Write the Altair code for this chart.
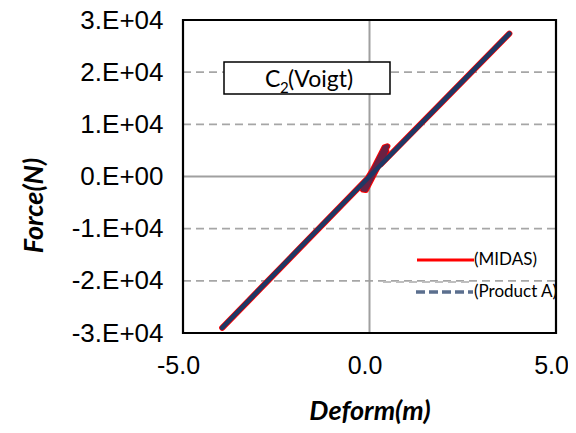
import altair as alt
import pandas as pd

# ---- data ----
prodA_deform = [-3.95, -2.0, 0.0, 2.0, 3.75]
prodA_force = [-29000, -14650, 0, 14650, 27400]

midas_deform = [-3.95, -2.0, -0.05, 0.48, 0.40, -0.18, -0.10, 0.45, 0.30, 2.0, 3.75]
midas_force = [-29000, -14700, -350, 5800, 5600, -2500, -2600, 5000, 2300, 14650, 27400]

y_grid = [-20000, -10000, 10000, 20000]
y_ticks = [-30000, -20000, -10000, 0, 10000, 20000, 30000]
x_ticks = [-5.0, 0.0, 5.0]

dfA = pd.DataFrame({"d": prodA_deform, "f": prodA_force, "o": list(range(len(prodA_deform)))})
dfM = pd.DataFrame({"d": midas_deform, "f": midas_force, "o": list(range(len(midas_deform)))})
dfG = pd.DataFrame({"g": y_grid})
dfZ = pd.DataFrame({"z": [0]})

xs = alt.Scale(domain=[-5, 5], nice=False, zero=False)
ys = alt.Scale(domain=[-30000, 30000], nice=False, zero=False)

x_axis = alt.Axis(
    values=x_ticks, grid=False, domain=False, ticks=False, labelFlush=False, labelOverlap=False,
    labelExpr="datum.value < 0 ? '-' + format(abs(datum.value), '.1f') : format(datum.value, '.1f')",
    labelFont="Liberation Sans", labelFontSize=25, labelColor="black", labelPadding=20,
    labelOffset=-5,
    title="Deform(m)", titleFont="Lato", titleFontSize=27, titleFontStyle="italic",
    titleFontWeight="bold", titleColor="black", titleBaseline="alphabetic", titleY=86,
)
y_axis = alt.Axis(
    values=y_ticks, grid=False, domain=False, ticks=False, labelOverlap=False,
    labelExpr="datum.value == 0 ? '0.E+00' : (datum.value < 0 ? '-' : '') + format(abs(datum.value)/10000, 'd') + '.E+04'",
    labelFont="Liberation Sans", labelFontSize=26, labelColor="black", labelPadding=20,
    title="Force(N)", titleFont="Lato", titleFontSize=27, titleFontStyle="italic",
    titleFontWeight="bold", titleColor="black", titleBaseline="alphabetic",
    titleAngle=270, titleX=-141, titleY=185,
)

X = lambda f: alt.X(f, scale=xs, axis=x_axis)
Y = lambda f: alt.Y(f, scale=ys, axis=y_axis)

grid = alt.Chart(dfG).mark_rule(color="#A6A6A6", strokeWidth=1.8, strokeDash=[8, 5]).encode(
    y=Y("g:Q"), x=alt.value(0), x2=alt.value(373),
)
zero_h = alt.Chart(dfZ).mark_rule(color="#A0A0A0", strokeWidth=2).encode(y=Y("z:Q"))
zero_v = alt.Chart(dfZ).mark_rule(color="#A0A0A0", strokeWidth=2).encode(x=X("z:Q"))

midas_red = alt.Chart(dfM).mark_line(color="#FF0000", strokeWidth=6, strokeCap="round", strokeJoin="round").encode(
    x=X("d:Q"), y=Y("f:Q"), order="o:Q"
)
midas_dark = alt.Chart(dfM).mark_line(color="#6A2143", strokeWidth=4, strokeCap="round", strokeJoin="round").encode(
    x=X("d:Q"), y=Y("f:Q"), order="o:Q"
)
prodA = alt.Chart(dfA).mark_line(color="#1F3864", strokeWidth=4.5, strokeCap="round").encode(
    x=X("d:Q"), y=Y("f:Q"), order="o:Q"
)

# plot frame
frame = alt.Chart(dfZ).mark_rect(fill=None, stroke="black", strokeWidth=2.2).encode(
    x=alt.value(0), x2=alt.value(373), y=alt.value(0), y2=alt.value(313)
)

# title box
box = alt.Chart(dfZ).mark_rect(fill="white", stroke="black", strokeWidth=1.5).encode(
    x=alt.value(41), x2=alt.value(207), y=alt.value(42), y2=alt.value(74)
)
t_c = alt.Chart(dfZ).mark_text(text="C", font="Lato", fontSize=23, align="left", baseline="alphabetic", color="black").encode(
    x=alt.value(82), y=alt.value(67))
t_2 = alt.Chart(dfZ).mark_text(text="2", font="Lato", fontSize=15, align="left", baseline="alphabetic", color="black").encode(
    x=alt.value(97), y=alt.value(73))
t_v = alt.Chart(dfZ).mark_text(text="(Voigt)", font="Lato", fontSize=23, align="left", baseline="alphabetic", color="black").encode(
    x=alt.value(105), y=alt.value(67))

# legend
leg_red = alt.Chart(dfZ).mark_rule(color="#FF0000", strokeWidth=3).encode(
    x=alt.value(234), x2=alt.value(291), y=alt.value(240))
leg_gray = alt.Chart(dfZ).mark_rule(color="#BFBFBF", strokeWidth=2, strokeDash=[8, 5]).encode(
    x=alt.value(200), x2=alt.value(290), y=alt.value(262))
leg_blue = alt.Chart(dfZ).mark_rule(color="#5B6F8E", strokeWidth=3.5, strokeDash=[9, 4]).encode(
    x=alt.value(233), x2=alt.value(290), y=alt.value(272))
leg_t1 = alt.Chart(dfZ).mark_text(text="(MIDAS)", font="Lato", fontSize=17, align="left", baseline="middle", color="black").encode(
    x=alt.value(291), y=alt.value(240))
leg_t2 = alt.Chart(dfZ).mark_text(text="(Product A)", font="Lato", fontSize=17, align="left", baseline="middle", color="black").encode(
    x=alt.value(291), y=alt.value(272))

chart = alt.layer(
    grid, zero_h, zero_v, midas_red, midas_dark, prodA, frame,
    box, t_c, t_2, t_v, leg_red, leg_gray, leg_blue, leg_t1, leg_t2,
).properties(
    width=373, height=313,
    autosize=alt.AutoSizeParams(type="none"),
    padding={"left": 175, "top": 12, "right": 12, "bottom": 92},
).configure_view(strokeWidth=0).configure(background="white")

chart.save("out.html", embed_options={"renderer": "svg", "actions": False})
